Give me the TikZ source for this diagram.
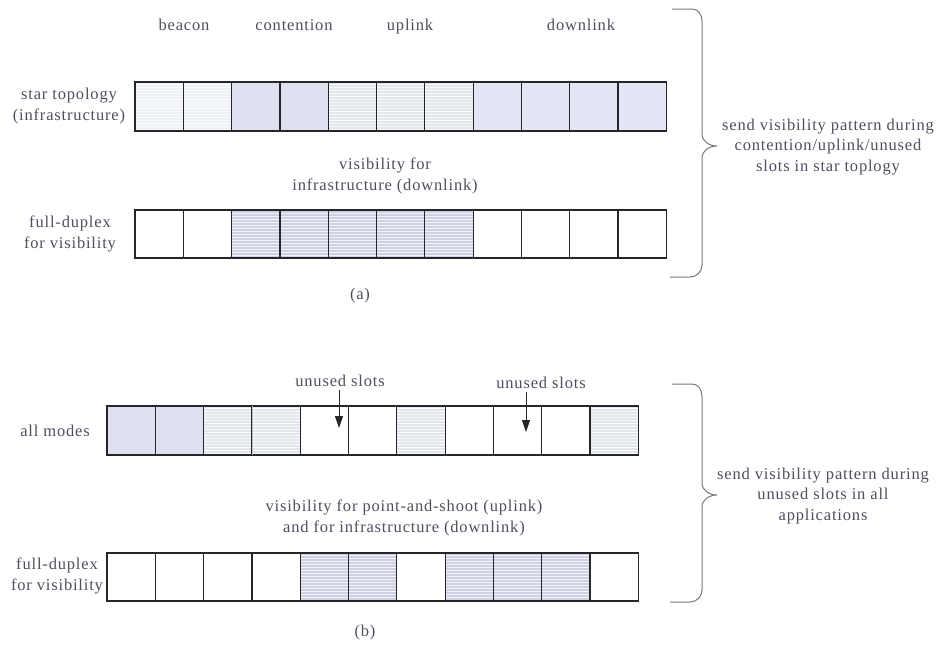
\documentclass[tikz,border=0pt]{standalone}
\usepackage{fontspec}
\setmainfont{Liberation Serif}
\newfontfamily\slotfont[LetterSpace=5]{Liberation Serif}
\usetikzlibrary{arrows.meta,positioning,patterns}
\definecolor{ink}{RGB}{78,78,96}
\definecolor{edge}{RGB}{38,38,42}
\definecolor{bracegray}{RGB}{120,120,130}
\definecolor{beaconfill}{RGB}{238,240,247}
\definecolor{contfill}{RGB}{223,225,240}
\definecolor{upfill}{RGB}{228,230,238}
\definecolor{downfill}{RGB}{229,230,245}
\definecolor{visfill}{RGB}{206,209,228}

\begin{document}
\begin{tikzpicture}[x=1pt,y=-1pt,
    slot/.style={draw=edge,line width=1.2pt,minimum width=48.3pt,
      minimum height=49pt,inner sep=0pt},
    hatched/.style={preaction={fill=#1},pattern=horizontal lines,
      pattern color=white!75!#1},
    bcn/.style={hatched=beaconfill},
    cnt/.style={fill=contfill},
    upl/.style={hatched=upfill},
    dnl/.style={fill=downfill},
    vis/.style={hatched=visfill},
    emp/.style={fill=white},
    lbl/.style={text=ink,inner sep=0pt,align=center,
      font=\slotfont\fontsize{16.5}{20.5}\selectfont},
    curly/.style={draw=bracegray,line width=1pt},
    pointer/.style={-{Triangle[length=12pt,width=8pt]},draw=edge,
      line width=1pt}]
  \useasboundingbox (0,0) rectangle (940,649);

  % (a) star topology
  \foreach \f [count=\i] in {bcn,bcn,cnt,cnt,upl,upl,upl,dnl,dnl,dnl,dnl}
    \node[slot,\f] (st\i) at ({135+48.3*(\i-0.5)},106.5) {};
  \foreach \f [count=\i] in {emp,emp,vis,vis,vis,vis,vis,emp,emp,emp,emp}
    \node[slot,\f,minimum height=48pt] (fa\i) at ({135+48.3*(\i-0.5)},234) {};

  \node[lbl,anchor=base] (beacon) at (184,30) {beacon};
  \node[lbl,anchor=base] (contention) at (294,30) {contention};
  \node[lbl,anchor=base] (uplink) at (410,30) {uplink};
  \node[lbl,anchor=base] (downlink) at (581,30) {downlink};
  \node[lbl] (startop) at (69,106) {star topology\\(infrastructure)};
  \node[lbl] (visa) at (385,176) {visibility for\\infrastructure (downlink)};
  \node[lbl] (fdxa) at (70,234) {full-duplex\\for visibility};
  \node[lbl] (capa) at (360,296) {(a)};

  \draw[curly] (672,9) -- (692,9) to[out=0,in=90] (702,21) -- (702,134)
    to[out=-90,in=180] (717,146) to[out=180,in=90] (702,158) -- (702,265)
    to[out=-90,in=0] (690,277) -- (670,277);
  \node[lbl] (senda) at (828,147)
    {send visibility pattern during\\contention/uplink/unused\\slots in star toplogy};

  % (b) all modes
  \foreach \f [count=\i] in {cnt,cnt,upl,upl,emp,emp,upl,emp,emp,emp,upl}
    \node[slot,\f] (am\i) at ({107+48.3*(\i-0.5)},430.5) {};
  \draw[upfill,line width=1.4pt,shorten <=0.7pt,shorten >=0.7pt]
    (am3.north east) -- (am3.south east);
  \draw[edge!30,line width=0.7pt,shorten <=0.7pt,shorten >=0.7pt]
    (am3.north east) -- (am3.south east);
  \foreach \f [count=\i] in {emp,emp,emp,emp,vis,vis,emp,vis,vis,vis,emp}
    \node[slot,\f,minimum height=48pt] (fb\i) at ({107+48.3*(\i-0.5)},577) {};

  \node[lbl,anchor=base] (unused1) at (340,386) {unused slots};
  \node[lbl,anchor=base] (unused2) at (541,388) {unused slots};
  \coordinate (tip1) at (339,428);
  \coordinate (tip2) at (526,432);
  \draw[pointer] (unused1.south -| tip1) ++(0,4) -- (tip1);
  \draw[pointer] (unused2.south -| tip2) ++(0,4) -- (tip2);

  \node[lbl,anchor=base] (allmodes) at (55,436) {all modes};
  \node[lbl] (visb) at (404,518)
    {visibility for point-and-shoot (uplink)\\and for infrastructure (downlink)};
  \node[lbl] (fdxb) at (57,576) {full-duplex\\for visibility};
  \node[lbl] (capb) at (365,633) {(b)};

  \draw[curly] (672,384) -- (692,384) to[out=0,in=90] (702,396) -- (702,483)
    to[out=-90,in=180] (717,495) to[out=180,in=90] (702,507) -- (702,590)
    to[out=-90,in=0] (690,602) -- (670,602);
  \node[lbl] (sendb) at (823,496)
    {send visibility pattern during\\unused slots in all\\applications};
\end{tikzpicture}
\end{document}
